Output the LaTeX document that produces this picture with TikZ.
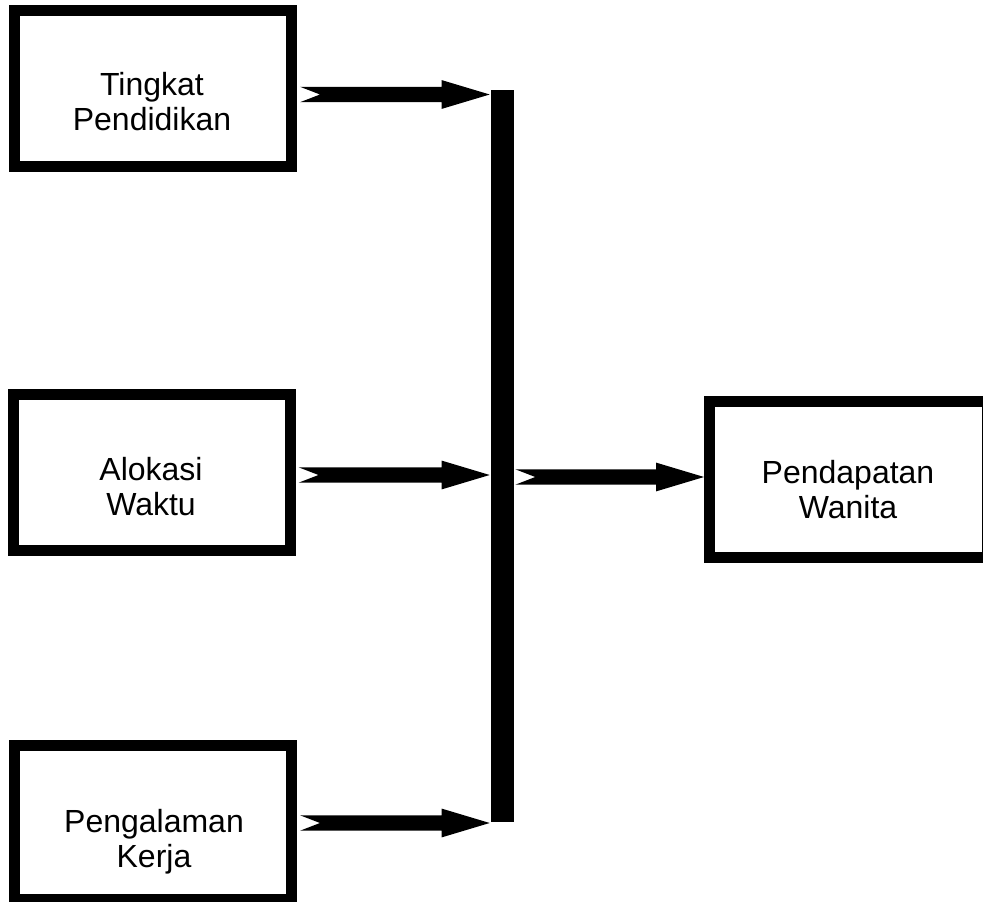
\documentclass[tikz,border=0pt]{standalone}
\usepackage{fontspec}
\setmainfont{Liberation Sans}
\usetikzlibrary{calc}
\newcommand{\blkarrow}[2]{%
  \fill let \p1=(#1), \p2=(#2) in
    (\x1,\y1+5.8pt) -- (\x2-36pt,\y1+5.8pt) -- (\x2-36pt,\y1+10.8pt) --
    (\x2,\y1) -- (\x2-36pt,\y1-10.8pt) -- (\x2-36pt,\y1-5.8pt) --
    (\x1,\y1-5.8pt) -- (\x1+15pt,\y1) -- cycle;}
\begin{document}
\begin{tikzpicture}[x=0.75pt,y=-0.75pt,
  box/.style={draw, line width=8.25pt, inner sep=0pt, minimum width=207.75pt, minimum height=117pt},
  txt/.style={anchor=north, inner sep=0pt, align=center, font=\fontsize{24}{26.3}\selectfont},
  barstyle/.style={fill, inner sep=0pt, minimum width=17.25pt, minimum height=549pt}]
\fill[white] (0,0) rectangle (983,902);
\useasboundingbox (0,0) rectangle (983,902);
\node[box] (b1) at (153,88.5) {};
\node[box] (b2) at (151.5,472.5) {};
\node[box, minimum height=115.5pt] (b3) at (153,822.5) {};
\node[box, minimum width=208.5pt] (b4) at (848.5,479.5) {};
\node[barstyle] (bar) at (502.5,456) {};
\node[txt] (t1) at (152,72) {Tingkat\\Pendidikan};
\node[txt] (t2) at (151,457) {Alokasi\\Waktu};
\node[txt] (t3) at (154,809) {Pengalaman\\Kerja};
\node[txt] (t4) at (848,460) {Pendapatan\\Wanita};
\coordinate (y1) at (0,94.5);
\coordinate (y2) at (0,475);
\coordinate (y3) at (0,823);
\coordinate (y4) at (0,477);
\coordinate (s1) at ($(b1.east |- y1)+(3,0)$);
\coordinate (e1) at ($(bar.west |- y1)+(-1,0)$);
\coordinate (s2) at ($(b2.east |- y2)+(3,0)$);
\coordinate (e2) at ($(bar.west |- y2)+(-1,0)$);
\coordinate (s3) at ($(b3.east |- y3)+(3,0)$);
\coordinate (e3) at ($(bar.west |- y3)+(-1,0)$);
\coordinate (s4) at ($(bar.east |- y4)+(1,0)$);
\coordinate (e4) at (b4.west |- y4);
\blkarrow{s1}{e1}
\blkarrow{s2}{e2}
\blkarrow{s3}{e3}
\blkarrow{s4}{e4}
\end{tikzpicture}
\end{document}
